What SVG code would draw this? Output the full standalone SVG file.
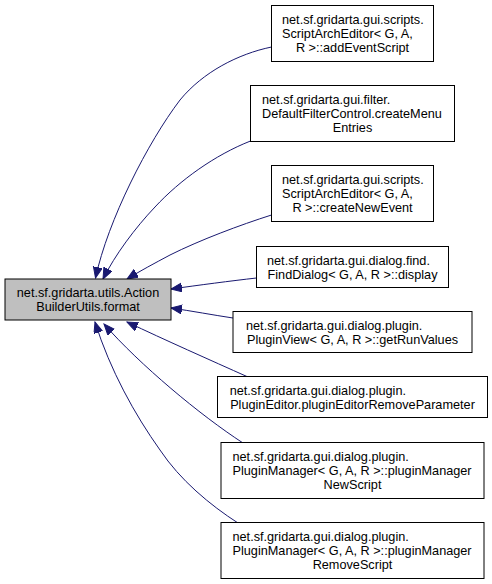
<svg xmlns="http://www.w3.org/2000/svg" width="492" height="584" viewBox="0 0 492 584">
<style>
  .node rect { fill: #ffffff; stroke: #000000; stroke-width: 1; }
  .node.main rect { fill: #bfbfbf; }
  .node text { font-family: "Liberation Sans", Arial, Helvetica, sans-serif; font-size: 12.7px; fill: #000000; }
  .c { text-anchor: middle; }
  .edges path { fill: none; stroke: #191970; stroke-width: 1; marker-end: url(#arrow); }
</style>
<defs>
  <marker id="arrow" markerUnits="userSpaceOnUse" markerWidth="12" markerHeight="10" refX="11" refY="4.5" orient="auto">
    <path d="M0,0 L11,4.5 L0,9 z" fill="#191970" stroke="#191970" stroke-width="1"/>
  </marker>
</defs>
<rect width="492" height="584" fill="#ffffff"/>

<g class="edges">
  <path d="M271.5,47 C238,54 203,72 180,100 C148,142 108,220 95.5,278"/>
  <path d="M250.5,141 C215,155 180,180 155,207 C135,228 115,255 103,279"/>
  <path d="M271.5,215 C240,225 200,240 170,255 C155,263 140,271 127,279"/>
  <path d="M256.5,278 C230,281 200,285 171,289"/>
  <path d="M233,318 C213,315 192,311 171,308"/>
  <path d="M248,377 C210,360 165,340 127,322"/>
  <path d="M243,443 C200,415 140,365 104,324"/>
  <path d="M238,523 C210,505 180,480 160,450 C135,415 110,370 95,322"/>
</g>

<g id="main" class="node main">
  <rect x="5" y="279" width="166" height="41"/>
  <text x="88" y="297" class="c">net.sf.gridarta.utils.Action</text>
  <text x="88" y="311" class="c">BuilderUtils.format</text>
</g>

<g id="n1" class="node">
  <rect x="271.5" y="5.5" width="162" height="56"/>
  <text x="282" y="24">net.sf.gridarta.gui.scripts.</text>
  <text x="282" y="38">ScriptArchEditor&lt; G, A,</text>
  <text x="352.5" y="52" class="c">R &gt;::addEventScript</text>
</g>

<g id="n2" class="node">
  <rect x="250.5" y="85.5" width="204" height="56"/>
  <text x="262" y="104">net.sf.gridarta.gui.filter.</text>
  <text x="262" y="118">DefaultFilterControl.createMenu</text>
  <text x="352.5" y="132" class="c">Entries</text>
</g>

<g id="n3" class="node">
  <rect x="271.5" y="165.5" width="162" height="56"/>
  <text x="282" y="184">net.sf.gridarta.gui.scripts.</text>
  <text x="282" y="198">ScriptArchEditor&lt; G, A,</text>
  <text x="352.5" y="212" class="c">R &gt;::createNewEvent</text>
</g>

<g id="n4" class="node">
  <rect x="256.5" y="246.5" width="192" height="41"/>
  <text x="267" y="264.5">net.sf.gridarta.gui.dialog.find.</text>
  <text x="352.5" y="278.5" class="c">FindDialog&lt; G, A, R &gt;::display</text>
</g>

<g id="n5" class="node">
  <rect x="233" y="311.5" width="239" height="41"/>
  <text x="246" y="329.5">net.sf.gridarta.gui.dialog.plugin.</text>
  <text x="352.5" y="343.5" class="c">PluginView&lt; G, A, R &gt;::getRunValues</text>
</g>

<g id="n6" class="node">
  <rect x="217.5" y="376.5" width="270" height="41"/>
  <text x="229.7" y="394.5">net.sf.gridarta.gui.dialog.plugin.</text>
  <text x="352.5" y="408.5" class="c">PluginEditor.pluginEditorRemoveParameter</text>
</g>

<g id="n7" class="node">
  <rect x="221" y="442.5" width="263" height="56"/>
  <text x="232.5" y="461">net.sf.gridarta.gui.dialog.plugin.</text>
  <text x="232.5" y="475">PluginManager&lt; G, A, R &gt;::pluginManager</text>
  <text x="352.5" y="489" class="c">NewScript</text>
</g>

<g id="n8" class="node">
  <rect x="221" y="522.5" width="263" height="56"/>
  <text x="232.5" y="541">net.sf.gridarta.gui.dialog.plugin.</text>
  <text x="232.5" y="555">PluginManager&lt; G, A, R &gt;::pluginManager</text>
  <text x="352.5" y="569" class="c">RemoveScript</text>
</g>
</svg>
